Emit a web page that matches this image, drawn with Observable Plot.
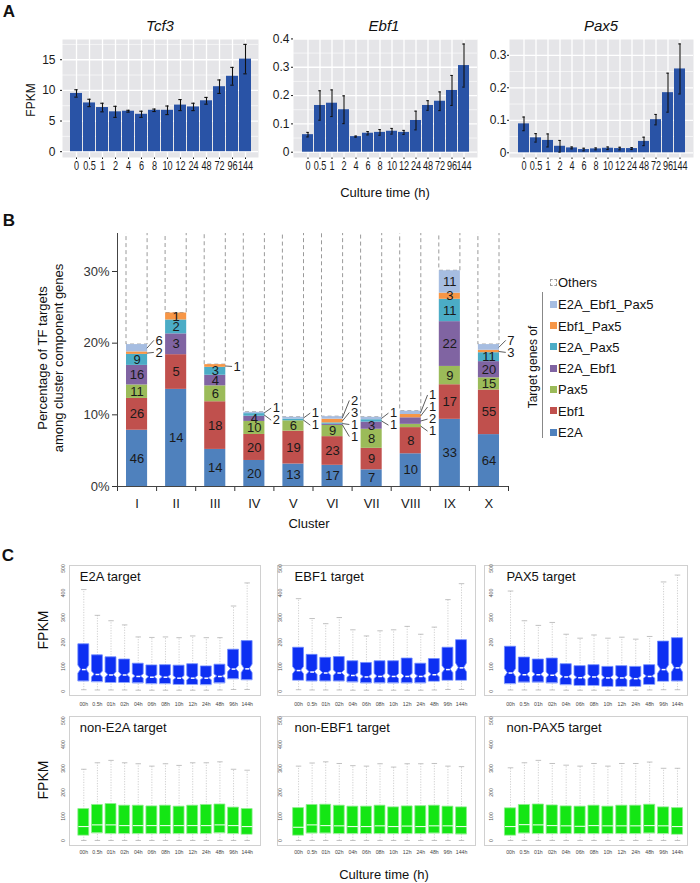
<!DOCTYPE html>
<html><head><meta charset="utf-8">
<script src="https://cdn.jsdelivr.net/npm/d3@7"></script>
<script src="https://cdn.jsdelivr.net/npm/@observablehq/plot@0.6"></script>
<style>
body{margin:0;background:#fff;font-family:"Liberation Sans",Arial,sans-serif}
#fig{position:relative;width:700px;height:883px;overflow:hidden;background:#fff}
#fig svg{position:absolute;overflow:visible}
.lab{position:absolute;white-space:nowrap;line-height:1;color:#111;font-family:"Liberation Sans",Arial,sans-serif}
</style></head><body><div id="fig"></div><script>
// ---------- Panel A data ----------
const times = ["0","0.5","1","2","4","6","8","10","12","24","48","72","96","144"];
const tcf3 = [9.5,7.95,7.2,6.5,6.6,6.1,6.75,6.75,7.6,7.3,8.3,10.6,12.3,15.1];
const tcf3Err = [0.6,0.6,0.7,0.9,0.15,0.5,0.2,0.7,0.9,0.6,0.55,1.1,1.45,2.4];
const ebf1 = [0.062,0.165,0.173,0.150,0.055,0.067,0.070,0.074,0.070,0.112,0.165,0.180,0.218,0.306];
const ebf1Err = [0.008,0.052,0.047,0.049,0.002,0.006,0.010,0.010,0.007,0.033,0.017,0.033,0.053,0.076];
const pax5 = [0.089,0.046,0.038,0.020,0.015,0.010,0.012,0.014,0.013,0.013,0.035,0.102,0.185,0.258];
const pax5Err = [0.021,0.013,0.020,0.018,0.003,0.004,0.003,0.004,0.004,0.003,0.013,0.016,0.060,0.077];
const tcf3Ticks = [0,5,10,15], tcf3Minor = [2.5,7.5,12.5,17.5];
const ebf1Ticks = [0,0.1,0.2,0.3,0.4], ebf1Minor = [0.05,0.15,0.25,0.35];
const pax5Ticks = [0,0.1,0.2,0.3], pax5Minor = [0.05,0.15,0.25];

// ---------- Panel B data ----------
const clusters = ["I","II","III","IV","V","VI","VII","VIII","IX","X"];
const targetGroups = ["E2A","Ebf1","Pax5","E2A_Ebf1","E2A_Pax5","Ebf1_Pax5","E2A_Ebf1_Pax5"];
const groupColors = ["#4F81BD","#C0504D","#9BBB59","#8064A2","#4BACC6","#F79646","#A6BDE1"];
const E2A           = [46,14,14,20,13,17,7,10,33,64];
const Ebf1          = [26,5,18,20,19,23,9,8,17,55];
const Pax5          = [11,0,6,10,6,9,8,1,9,15];
const E2A_Ebf1      = [16,3,4,4,0,1,3,2,22,20];
const E2A_Pax5      = [9,2,3,2,1,1,1,0,11,11];
const Ebf1_Pax5     = [2,1,1,0,0,3,0,1,3,3];
const E2A_Ebf1_Pax5 = [6,0,0,1,1,2,1,1,11,7];
const totalPct      = [19.8,24.2,17.0,10.35,9.65,9.74,9.65,10.5,30.1,19.8];
const calloutFrom   = [5,7,5,4,4,3,4,2,7,5]; // first stack index labelled outside the bar
const pctTicks = [0,10,20,30];

// ---------- Panel C data ----------
const boxTimes = ["00h","0.5h","01h","02h","04h","06h","08h","10h","12h","24h","48h","96h","144h"];
const cTicks = [0,100,200,300,400,500];
const e2aT  = {hi:[414,309,287,270,221,219,221,218,225,218,218,347,441], q3:[191,146,138,129,112,105,106,104,110,101,108,169,204], med:[88,68,66,66,60,57,57,53,53,53,60,90,91], q1:[41,38,35,35,33,30,30,27,27,26,33,50,46], lo:[6,5,5,5,4,4,4,4,4,4,5,7,7]};
const ebf1T = {hi:[377,296,275,300,250,225,246,250,264,232,261,373,438], q3:[177,148,136,139,122,115,122,122,133,112,131,177,208], med:[84,78,74,74,64,58,60,60,60,60,67,88,95], q1:[44,41,41,41,37,33,33,33,33,33,40,44,44], lo:[6,5,5,5,4,4,4,4,4,4,5,7,7]};
const pax5T = {hi:[408,287,268,280,232,216,229,216,220,212,223,445,473], q3:[181,137,129,133,110,102,106,99,102,99,106,202,216], med:[74,67,67,65,58,55,58,54,54,51,60,88,95], q1:[30,36,36,33,26,23,23,19,19,19,27,40,41], lo:[5,5,5,5,4,4,4,4,4,4,5,6,6]};
const nonE2A  = {hi:[297,324,334,324,320,310,320,313,324,324,328,297,293], q3:[131,148,152,145,145,142,145,141,145,148,150,137,131], med:[58,65,65,62,62,62,62,62,62,62,65,62,58], q1:[21,31,28,28,28,28,28,28,28,28,31,28,25], lo:[0,0,0,0,0,0,0,0,0,0,0,0,0]};
const nonEBF1 = {hi:[310,323,328,321,312,310,320,306,320,320,321,310,308], q3:[135,148,149,145,141,141,145,138,142,143,145,141,138], med:[55,65,62,61,58,58,61,58,60,58,61,61,58], q1:[21,30,30,28,28,28,28,28,28,28,30,28,26], lo:[0,0,0,0,0,0,0,0,0,0,0,0,0]};
const nonPAX5 = {hi:[303,324,334,321,314,310,321,310,321,321,327,301,301], q3:[134,148,150,146,142,141,145,141,145,145,149,138,135], med:[58,66,65,62,61,59,62,61,61,61,62,61,58], q1:[21,30,28,28,28,28,28,28,28,28,30,28,25], lo:[0,0,0,0,0,0,0,0,0,0,0,0,0]};

// ---------- helpers ----------
const FONT = '"Liberation Sans", Arial, sans-serif';
const fig = document.getElementById("fig");
function put(svg, left, top) { svg.style.left = left + "px"; svg.style.top = top + "px"; fig.appendChild(svg); }
function label(text, x, y, o = {}) {
  const d = document.createElement("div");
  d.className = "lab";
  d.textContent = text;
  d.style.left = x + "px"; d.style.top = y + "px";
  d.style.fontSize = (o.size || 13) + "px";
  if (o.bold) d.style.fontWeight = "bold";
  if (o.italic) d.style.fontStyle = "italic";
  const tx = o.anchor === "start" ? "0" : o.anchor === "end" ? "-100%" : "-50%";
  d.style.transform = `translate(${tx},-50%)` + (o.rotate ? ` rotate(${o.rotate}deg)` : "");
  fig.appendChild(d);
  return d;
}

// ---------- Panel A ----------
function geneChart(vals, errs, o) {
  const rows = times.map((t, i) => ({t, v: vals[i], lo: vals[i] - errs[i], hi: vals[i] + errs[i]}));
  const svg = Plot.plot({
    width: o.width, height: 175, marginLeft: o.ml, marginRight: o.mr, marginTop: 39, marginBottom: 18,
    style: {fontFamily: FONT, fontSize: "12px", color: "#1a1a1a", background: "transparent", overflow: "visible"},
    x: {domain: times, paddingInner: 0.1, paddingOuter: 0.15, tickSize: 2, tickPadding: 1.5, label: null},
    y: {domain: o.domain, ticks: o.major, tickFormat: o.fmt, tickSize: 2, tickPadding: o.tp, label: null},
    marks: [
      Plot.frame({fill: "#E5E5E8", stroke: "none"}),
      Plot.ruleY(o.minor, {stroke: "white", strokeWidth: 0.6}),
      Plot.ruleY(o.major, {stroke: "white", strokeWidth: 1.3}),
      Plot.ruleX(times, {stroke: "white", strokeWidth: 1.3}),
      Plot.barY(rows, {x: "t", y: "v", fill: "#2953A6"}),
      Plot.ruleX(rows, {x: "t", y1: "lo", y2: "hi", stroke: "#111", strokeWidth: 1.1}),
      Plot.tickY(rows, {x: "t", y: "hi", stroke: "#111", strokeWidth: 1.1, insetLeft: 4.3, insetRight: 4.3}),
      Plot.tickY(rows, {x: "t", y: "lo", stroke: "#111", strokeWidth: 1.1, insetLeft: 4.3, insetRight: 4.3})
    ]
  });
  // the reference's time labels are set in a condensed face: squeeze them horizontally
  svg.querySelectorAll('[aria-label^="x-axis"] text').forEach(t => {
    const tr = t.getAttribute("transform") || "";
    t.setAttribute("transform", (tr + " scale(0.76,1)").trim());
  });
  return svg;
}
const fmt1 = d => d === 0 ? "0" : d.toFixed(1);
put(geneChart(tcf3, tcf3Err, {width: 262, ml: 62, mr: 4, domain: [-0.95, 18.3], major: tcf3Ticks, minor: tcf3Minor, fmt: d => String(d), tp: 5}), 0, 0);
put(geneChart(ebf1, ebf1Err, {width: 220, ml: 31, mr: 5, domain: [-0.0187, 0.398], major: ebf1Ticks, minor: ebf1Minor, fmt: fmt1, tp: 2}), 262, 0);
put(geneChart(pax5, pax5Err, {width: 218, ml: 27, mr: 7, domain: [-0.0145, 0.3486], major: pax5Ticks, minor: pax5Minor, fmt: fmt1, tp: 1}), 482, 0);
label("A", 9, 11, {size: 17, bold: true});
label("Tcf3", 160, 25, {size: 15, italic: true});
label("Ebf1", 384, 25, {size: 15, italic: true});
label("Pax5", 601, 25, {size: 15, italic: true});
label("FPKM", 31, 100, {size: 12, rotate: -90});
label("Culture time (h)", 385, 192, {size: 13});

// ---------- Panel B ----------
const groupCounts = [E2A, Ebf1, Pax5, E2A_Ebf1, E2A_Pax5, Ebf1_Pax5, E2A_Ebf1_Pax5];
const segs = [], others = [], inside = [], callouts = [];
const PX = 39.1;            // px per cluster band
const inset = 9;            // px inset of bar inside band
const spacing = 1.68;       // callout spacing in % units (about 12 px)
clusters.forEach((c, i) => {
  const counts = groupCounts.map(a => a[i]);
  const sum = d3.sum(counts);
  let acc = 0;
  const cs = [];
  counts.forEach((n, g) => {
    const h = n / sum * totalPct[i];
    if (n > 0) {
      const s = {x1: i, x2: i + 1, y1: acc, y2: acc + h, ym: acc + h / 2, group: targetGroups[g], n, g};
      segs.push(s);
      if (g >= calloutFrom[i]) cs.push(s); else inside.push(s);
    }
    acc += h;
  });
  others.push({x1: i, x2: i + 1, y1: totalPct[i]});
  cs.reverse();
  const center = totalPct[i] - 0.25;
  const right = i + 1 - inset / PX;
  cs.forEach((s, k) => {
    const ly = center + ((cs.length - 1) / 2 - k) * spacing;
    callouts.push({n: s.n, ax: right - 0.02, ay: s.ym, bx: right + 0.16, by: ly, lx: right + 0.2});
  });
});
const bChart = Plot.plot({
  width: 530, height: 330, marginLeft: 117, marginRight: 22, marginTop: 33, marginBottom: 44,
  style: {fontFamily: FONT, fontSize: "13px", color: "#333", background: "transparent", overflow: "visible"},
  x: {domain: [0, 10], ticks: d3.range(0, 11), tickFormat: () => "", tickSize: 5, label: null},
  y: {domain: [0, 35.3], ticks: pctTicks, tickFormat: d => d + "%", tickSize: 5, tickPadding: 3, label: null},
  color: {domain: targetGroups, range: groupColors},
  marks: [
    Plot.rect(others, {x1: "x1", x2: "x2", y1: "y1", y2: () => 100, fill: "none", stroke: "#9a9a9a", strokeWidth: 1, strokeDasharray: "4,3", insetLeft: inset, insetRight: inset, clip: true}),
    Plot.rect(segs, {x1: "x1", x2: "x2", y1: "y1", y2: "y2", fill: "group", insetLeft: inset, insetRight: inset}),
    Plot.text(inside, {x: d => d.x1 + 0.5, y: "ym", text: "n", fontSize: 13, fill: "#1a1a1a"}),
    Plot.link(callouts, {x1: "ax", y1: "ay", x2: "bx", y2: "by", stroke: "#333", strokeWidth: 0.8}),
    Plot.text(callouts, {x: "lx", y: "by", text: "n", textAnchor: "start", fontSize: 13, fill: "#1a1a1a"}),
    Plot.text(clusters, {x: (d, i) => i + 0.5, y: () => 0, text: d => d, dy: 17, fontSize: 13, fill: "#1a1a1a"}),
    Plot.ruleX([0], {stroke: "#444", strokeWidth: 1}),
    Plot.ruleY([0], {stroke: "#444", strokeWidth: 1})
  ]
});
put(bChart, 0, 200);
label("B", 9, 220, {size: 17, bold: true});
label("Percentage of TF targets", 42, 358, {size: 13, rotate: -90});
label("among cluster component genes", 58, 358, {size: 13, rotate: -90});
label("Cluster", 309, 523, {size: 13});

// legend for B
{
  const o = document.createElement("div");
  o.style.cssText = "position:absolute;left:550px;top:279px;width:5px;height:5px;border:1px dashed #999;background:#fff";
  fig.appendChild(o);
  label("Others", 558, 282, {size: 13, anchor: "start"});
  const legendYs = [304, 325.5, 346.5, 368, 389, 410.5, 432];
  const order = targetGroups.slice().reverse();
  order.forEach((g, k) => {
    const sw = document.createElement("div");
    const col = groupColors[targetGroups.indexOf(g)];
    sw.style.cssText = `position:absolute;left:550px;top:${legendYs[k] - 3.5}px;width:7px;height:7px;background:${col}`;
    fig.appendChild(sw);
    label(g, 558, legendYs[k], {size: 13, anchor: "start"});
  });
  const bar = document.createElement("div");
  bar.style.cssText = "position:absolute;left:542px;top:292px;width:1px;height:146px;background:#888";
  fig.appendChild(bar);
  label("Target genes of", 533, 367, {size: 12, rotate: -90});
}

// ---------- Panel C ----------
function boxPanel(st, o) {
  const ml = 16, mr = 2, mt = 2, mb = 16;
  const boxes = [], pts = [];
  boxTimes.forEach((t, j) => {
    const i = j + 1;
    const b = {i, t, hi: st.hi[j], q3: st.q3[j], med: st.med[j], q1: st.q1[j], lo: st.lo[j]};
    boxes.push(b);
    const nh = o.notch ? 0.11 * (b.q3 - b.q1) : 0;
    const w = 0.4, wn = o.notch ? 0.2 : 0.4;
    pts.push({i, y: b.q1, a: i - w, b: i + w},
             {i, y: b.med - nh, a: i - w, b: i + w},
             {i, y: b.med, a: i - wn, b: i + wn},
             {i, y: b.med + nh, a: i - w, b: i + w},
             {i, y: b.q3, a: i - w, b: i + w});
  });
  const mw = o.notch ? 0.14 : 0.4;
  return Plot.plot({
    width: o.right - o.left + ml + mr, height: o.bottom - o.top + mt + mb,
    marginLeft: ml, marginRight: mr, marginTop: mt, marginBottom: mb,
    style: {fontFamily: FONT, background: "transparent", overflow: "visible"},
    x: {domain: o.xd, axis: null}, y: {domain: o.yd, axis: null},
    marks: [
      Plot.frame({stroke: "#d0d0d0", strokeWidth: 1}),
      Plot.link(boxes, {x1: "i", x2: "i", y1: "q3", y2: "hi", stroke: "#b0b0b0", strokeWidth: 0.6, strokeDasharray: "1.2,1.4"}),
      Plot.link(boxes, {x1: "i", x2: "i", y1: "lo", y2: "q1", stroke: "#b0b0b0", strokeWidth: 0.6, strokeDasharray: "1.2,1.4"}),
      Plot.link(boxes, {x1: d => d.i - 0.2, x2: d => d.i + 0.2, y1: "hi", y2: "hi", stroke: "#a8a8a8", strokeWidth: 0.7}),
      Plot.link(boxes, {x1: d => d.i - 0.2, x2: d => d.i + 0.2, y1: "lo", y2: "lo", stroke: "#a8a8a8", strokeWidth: 0.7}),
      Plot.areaX(pts, {y: "y", x1: "a", x2: "b", z: "i", fill: o.fill, stroke: o.edge, strokeWidth: 0.8}),
      Plot.link(boxes, {x1: d => d.i - mw, x2: d => d.i + mw, y1: "med", y2: "med", stroke: o.medColor, strokeWidth: o.medWidth}),
      Plot.text([o.title], {x: () => 1, y: () => o.yd[1], text: d => d, dx: -4, dy: 11, textAnchor: "start", fontSize: 13, fill: "#111"}),
      Plot.text(boxes, {x: "i", y: () => o.yd[0], text: "t", dy: o.tdy, fontSize: 5.2, fill: "#444"}),
      Plot.text(cTicks, {x: () => o.xd[0], y: d => d, text: d => String(d), rotate: -90, dx: o.ydx, fontSize: 5.2, fill: "#555"})
    ]
  });
}
const cols = [
  {left: 69, right: 260, xd: [-0.05, 13.98], ydx: -6},
  {left: 277, right: 475, xd: [-0.55, 14.03], ydx: 3},
  {left: 484, right: 687, xd: [-0.87, 13.72], ydx: 7}
];
const rowsC = [
  {top: 565, bottom: 695, yd: [-17.5, 512], tdy: 9},
  {top: 716, bottom: 845, yd: [-21, 517], tdy: 7}
];
const blueStyle = {fill: "#0d2ff2", edge: "#6e8cff", medColor: "white", medWidth: 1.5, notch: true};
const greenStyle = {fill: "#14e614", edge: "#8cef8c", medColor: "#e6ffe6", medWidth: 1.1, notch: false};
const panelsC = [
  [e2aT, "E2A target", 0, 0, blueStyle], [ebf1T, "EBF1 target", 1, 0, blueStyle], [pax5T, "PAX5 target", 2, 0, blueStyle],
  [nonE2A, "non-E2A target", 0, 1, greenStyle], [nonEBF1, "non-EBF1 target", 1, 1, greenStyle], [nonPAX5, "non-PAX5 target", 2, 1, greenStyle]
];
panelsC.forEach(([st, title, c, r, sty]) => {
  const o = Object.assign({title}, cols[c], rowsC[r], sty);
  put(boxPanel(st, o), o.left - 16, o.top - 2);
});
label("C", 8, 555, {size: 17, bold: true});
label("FPKM", 43, 630, {size: 14, rotate: -90});
label("FPKM", 43, 780, {size: 14, rotate: -90});
label("Culture time (h)", 384, 874, {size: 13});
</script></body></html>
